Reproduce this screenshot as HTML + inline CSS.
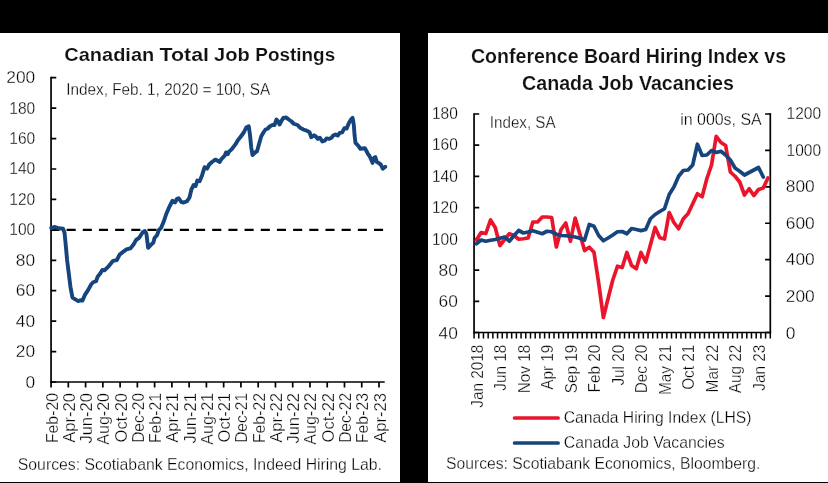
<!DOCTYPE html>
<html lang="en">
<head>
<meta charset="utf-8">
<title>Canadian Job Postings and Hiring Index Charts</title>
<style>
html,body{margin:0;padding:0;background:#000;}
body{width:828px;height:483px;overflow:hidden;}
#stage{width:828px;height:483px;will-change:transform;}
svg{display:block;font-family:"Liberation Sans", sans-serif;}
</style>
</head>
<body>
<div id="stage">
<svg width="828" height="483" viewBox="0 0 828 483">
<rect x="0" y="0" width="828" height="483" fill="#000"/>
<rect x="0" y="33" width="400" height="449" fill="#fff"/>
<rect x="428" y="33" width="400" height="449" fill="#fff"/>
<text y="61.45" font-size="19.1" font-weight="bold" fill="#111" stroke="#fff" stroke-width="0.15" paint-order="fill stroke"><tspan x="64.28" textLength="89.96" lengthAdjust="spacingAndGlyphs">Canadian</tspan> <tspan x="159.57" textLength="49.50" lengthAdjust="spacingAndGlyphs">Total</tspan> <tspan x="214.10" textLength="35.73" lengthAdjust="spacingAndGlyphs">Job</tspan> <tspan x="255.34" textLength="79.84" lengthAdjust="spacingAndGlyphs">Postings</tspan></text>
<text x="66.2" y="94.6" font-size="16" text-anchor="start" fill="#000" stroke="#fff" stroke-width="0.3" paint-order="fill stroke" textLength="204" lengthAdjust="spacingAndGlyphs" >Index, Feb. 1, 2020 = 100, SA</text>
<text x="35.2" y="387.5" font-size="16" text-anchor="end" fill="#000" stroke="#fff" stroke-width="0.3" paint-order="fill stroke" textLength="9.65" lengthAdjust="spacingAndGlyphs" >0</text>
<text x="35.2" y="357.07" font-size="16" text-anchor="end" fill="#000" stroke="#fff" stroke-width="0.3" paint-order="fill stroke" textLength="19.31" lengthAdjust="spacingAndGlyphs" >20</text>
<text x="35.2" y="326.64" font-size="16" text-anchor="end" fill="#000" stroke="#fff" stroke-width="0.3" paint-order="fill stroke" textLength="19.31" lengthAdjust="spacingAndGlyphs" >40</text>
<text x="35.2" y="296.21" font-size="16" text-anchor="end" fill="#000" stroke="#fff" stroke-width="0.3" paint-order="fill stroke" textLength="19.31" lengthAdjust="spacingAndGlyphs" >60</text>
<text x="35.2" y="265.78" font-size="16" text-anchor="end" fill="#000" stroke="#fff" stroke-width="0.3" paint-order="fill stroke" textLength="19.31" lengthAdjust="spacingAndGlyphs" >80</text>
<text x="35.2" y="235.35" font-size="16" text-anchor="end" fill="#000" stroke="#fff" stroke-width="0.3" paint-order="fill stroke" textLength="25.89" lengthAdjust="spacingAndGlyphs" >100</text>
<text x="35.2" y="204.92" font-size="16" text-anchor="end" fill="#000" stroke="#fff" stroke-width="0.3" paint-order="fill stroke" textLength="25.89" lengthAdjust="spacingAndGlyphs" >120</text>
<text x="35.2" y="174.48999999999998" font-size="16" text-anchor="end" fill="#000" stroke="#fff" stroke-width="0.3" paint-order="fill stroke" textLength="25.89" lengthAdjust="spacingAndGlyphs" >140</text>
<text x="35.2" y="144.06" font-size="16" text-anchor="end" fill="#000" stroke="#fff" stroke-width="0.3" paint-order="fill stroke" textLength="25.89" lengthAdjust="spacingAndGlyphs" >160</text>
<text x="35.2" y="113.63" font-size="16" text-anchor="end" fill="#000" stroke="#fff" stroke-width="0.3" paint-order="fill stroke" textLength="25.89" lengthAdjust="spacingAndGlyphs" >180</text>
<text x="35.2" y="83.19999999999999" font-size="16" text-anchor="end" fill="#000" stroke="#fff" stroke-width="0.3" paint-order="fill stroke" textLength="28.96" lengthAdjust="spacingAndGlyphs" >200</text>
<g stroke="#000" stroke-width="1.7" fill="none" stroke-linecap="butt">
<path d="M51.06 76.85000000000001 V382.85"/>
<path d="M50.21 382.0 H384.7"/>
<path d="M51.06 382.00 h5.2 M51.06 351.57 h5.2 M51.06 321.14 h5.2 M51.06 290.71 h5.2 M51.06 260.28 h5.2 M51.06 229.85 h5.2 M51.06 199.42 h5.2 M51.06 168.99 h5.2 M51.06 138.56 h5.2 M51.06 108.13 h5.2 M51.06 77.70 h5.2 "/>
<path d="M51.06 382.0 v5.4 M68.32 382.0 v5.4 M85.58 382.0 v5.4 M102.84 382.0 v5.4 M120.10 382.0 v5.4 M137.36 382.0 v5.4 M154.62 382.0 v5.4 M171.88 382.0 v5.4 M189.14 382.0 v5.4 M206.40 382.0 v5.4 M223.66 382.0 v5.4 M240.92 382.0 v5.4 M258.18 382.0 v5.4 M275.44 382.0 v5.4 M292.70 382.0 v5.4 M309.96 382.0 v5.4 M327.22 382.0 v5.4 M344.48 382.0 v5.4 M361.74 382.0 v5.4 M379.00 382.0 v5.4 "/>
</g>
<path d="M50.4 229.85 H384.7" stroke="#000" stroke-width="2.2" stroke-dasharray="9.1 7.08" fill="none"/>
<text x="57.56" y="393.0" font-size="16" text-anchor="end" fill="#000" stroke="#fff" stroke-width="0.3" paint-order="fill stroke" textLength="50.1" lengthAdjust="spacingAndGlyphs" transform="rotate(-90 57.56 393.0)" >Feb-20</text>
<text x="74.82" y="393.0" font-size="16" text-anchor="end" fill="#000" stroke="#fff" stroke-width="0.3" paint-order="fill stroke" textLength="49.8" lengthAdjust="spacingAndGlyphs" transform="rotate(-90 74.82 393.0)" >Apr-20</text>
<text x="92.08" y="393.0" font-size="16" text-anchor="end" fill="#000" stroke="#fff" stroke-width="0.3" paint-order="fill stroke" textLength="50.6" lengthAdjust="spacingAndGlyphs" transform="rotate(-90 92.08 393.0)" >Jun-20</text>
<text x="109.34" y="393.0" font-size="16" text-anchor="end" fill="#000" stroke="#fff" stroke-width="0.3" paint-order="fill stroke" textLength="51.7" lengthAdjust="spacingAndGlyphs" transform="rotate(-90 109.34 393.0)" >Aug-20</text>
<text x="126.6" y="393.0" font-size="16" text-anchor="end" fill="#000" stroke="#fff" stroke-width="0.3" paint-order="fill stroke" textLength="49.4" lengthAdjust="spacingAndGlyphs" transform="rotate(-90 126.6 393.0)" >Oct-20</text>
<text x="143.86" y="393.0" font-size="16" text-anchor="end" fill="#000" stroke="#fff" stroke-width="0.3" paint-order="fill stroke" textLength="49.8" lengthAdjust="spacingAndGlyphs" transform="rotate(-90 143.86 393.0)" >Dec-20</text>
<text x="161.12" y="393.0" font-size="16" text-anchor="end" fill="#000" stroke="#fff" stroke-width="0.3" paint-order="fill stroke" textLength="50.1" lengthAdjust="spacingAndGlyphs" transform="rotate(-90 161.12 393.0)" >Feb-21</text>
<text x="178.38" y="393.0" font-size="16" text-anchor="end" fill="#000" stroke="#fff" stroke-width="0.3" paint-order="fill stroke" textLength="49.8" lengthAdjust="spacingAndGlyphs" transform="rotate(-90 178.38 393.0)" >Apr-21</text>
<text x="195.64" y="393.0" font-size="16" text-anchor="end" fill="#000" stroke="#fff" stroke-width="0.3" paint-order="fill stroke" textLength="50.6" lengthAdjust="spacingAndGlyphs" transform="rotate(-90 195.64 393.0)" >Jun-21</text>
<text x="212.9" y="393.0" font-size="16" text-anchor="end" fill="#000" stroke="#fff" stroke-width="0.3" paint-order="fill stroke" textLength="51.7" lengthAdjust="spacingAndGlyphs" transform="rotate(-90 212.9 393.0)" >Aug-21</text>
<text x="230.16" y="393.0" font-size="16" text-anchor="end" fill="#000" stroke="#fff" stroke-width="0.3" paint-order="fill stroke" textLength="49.4" lengthAdjust="spacingAndGlyphs" transform="rotate(-90 230.16 393.0)" >Oct-21</text>
<text x="247.42" y="393.0" font-size="16" text-anchor="end" fill="#000" stroke="#fff" stroke-width="0.3" paint-order="fill stroke" textLength="49.8" lengthAdjust="spacingAndGlyphs" transform="rotate(-90 247.42 393.0)" >Dec-21</text>
<text x="264.68" y="393.0" font-size="16" text-anchor="end" fill="#000" stroke="#fff" stroke-width="0.3" paint-order="fill stroke" textLength="50.1" lengthAdjust="spacingAndGlyphs" transform="rotate(-90 264.68 393.0)" >Feb-22</text>
<text x="281.94" y="393.0" font-size="16" text-anchor="end" fill="#000" stroke="#fff" stroke-width="0.3" paint-order="fill stroke" textLength="49.8" lengthAdjust="spacingAndGlyphs" transform="rotate(-90 281.94 393.0)" >Apr-22</text>
<text x="299.2" y="393.0" font-size="16" text-anchor="end" fill="#000" stroke="#fff" stroke-width="0.3" paint-order="fill stroke" textLength="50.6" lengthAdjust="spacingAndGlyphs" transform="rotate(-90 299.2 393.0)" >Jun-22</text>
<text x="316.46" y="393.0" font-size="16" text-anchor="end" fill="#000" stroke="#fff" stroke-width="0.3" paint-order="fill stroke" textLength="51.7" lengthAdjust="spacingAndGlyphs" transform="rotate(-90 316.46 393.0)" >Aug-22</text>
<text x="333.72" y="393.0" font-size="16" text-anchor="end" fill="#000" stroke="#fff" stroke-width="0.3" paint-order="fill stroke" textLength="49.4" lengthAdjust="spacingAndGlyphs" transform="rotate(-90 333.72 393.0)" >Oct-22</text>
<text x="350.98" y="393.0" font-size="16" text-anchor="end" fill="#000" stroke="#fff" stroke-width="0.3" paint-order="fill stroke" textLength="49.8" lengthAdjust="spacingAndGlyphs" transform="rotate(-90 350.98 393.0)" >Dec-22</text>
<text x="368.24" y="393.0" font-size="16" text-anchor="end" fill="#000" stroke="#fff" stroke-width="0.3" paint-order="fill stroke" textLength="50.1" lengthAdjust="spacingAndGlyphs" transform="rotate(-90 368.24 393.0)" >Feb-23</text>
<text x="385.5" y="393.0" font-size="16" text-anchor="end" fill="#000" stroke="#fff" stroke-width="0.3" paint-order="fill stroke" textLength="49.8" lengthAdjust="spacingAndGlyphs" transform="rotate(-90 385.5 393.0)" >Apr-23</text>
<polyline points="51.25,228 55,227 58.75,228.25 63,228.75 64.5,232.5 65.5,242.5 67.1,260 68.6,272 70.4,286.6 72.4,297.3 75.3,299.4 78.2,301.1 80.3,300.2 82.5,300.5 84.9,294.9 88.2,289.9 91.1,284.5 93.1,282.3 96,281.2 97.7,276.6 100.4,273.2 102.3,269.9 104.5,270.4 108.8,266.1 113.1,260.8 116.8,260.2 119.5,254.8 123.8,251.3 126.5,249.4 130.3,248.4 133.5,244.6 136.2,239.8 139.4,237.6 142.7,232.2 144.8,231.1 146.4,233.8 148.1,247.8 150.7,245.1 153.4,242.5 154.5,238.1 157.2,234.9 158.8,230.1 161,227.9 163.75,221.5 166.25,214 169.5,206.5 172.5,200.75 175,202.5 177,198.75 178.75,198.25 181.25,202 183.75,202.5 187,201.25 189.5,197.5 191.4,189.5 193.7,185 195.6,186 197.3,180.6 199.6,181.2 202.1,175.2 204.6,167.2 207.1,168.6 209.2,164.5 212,162 215.3,159.6 217.5,160.6 219.7,162 221.6,158.8 224.7,155.7 226,152.4 227.8,154.1 228.8,151.9 231.6,149.4 235.4,144.4 238,140 240.5,137 243.75,132.5 246.25,127.5 248.75,126.25 250,135 251.25,147.5 252.5,155 255,152.5 257,151.25 258.75,145 261.25,136.25 263.75,132 265.5,129.5 267.5,128.75 270,126.25 272.5,125 274.5,125 276.5,119.5 278,121.25 279.5,124.5 281.25,121.25 283.25,118 286.25,117.5 288.75,119.5 291.25,121.25 293.75,123.75 297.5,125 300,127.6 303.3,129.5 306.6,130.6 309.6,132.3 311.3,137.25 314.1,135.3 315.7,136.4 317.9,138.9 319.9,137.75 322.35,141.4 324.8,140.6 326.5,138.4 329,138.9 331.5,137.75 333.1,135.6 335.6,134.4 337.75,135.6 339.7,132.8 342.2,132.3 344.4,128.1 346.7,128.5 348.8,123.2 351,119.5 352.6,117.9 353.8,124.8 354.6,135.6 355.5,143 357.1,144.4 358.8,146.4 360.4,148.8 362.9,148.5 364.9,148.3 366.2,150.5 367.9,153.8 369.5,156 371.2,159.6 372.5,162.9 374,157.9 375.3,157.1 377,162.1 378.6,162.9 380.8,164.6 382.8,168.7 385.3,166.7" fill="none" stroke="#16457d" stroke-width="3.9" stroke-linejoin="round" stroke-linecap="round"/>
<text x="17.8" y="469.8" font-size="16" text-anchor="start" fill="#000" stroke="#fff" stroke-width="0.3" paint-order="fill stroke" textLength="364.2" lengthAdjust="spacingAndGlyphs" >Sources: Scotiabank Economics, Indeed Hiring Lab.</text>
<text x="628.5" y="62.65" font-size="20.4" text-anchor="middle" fill="#111" font-weight="bold" stroke="#fff" stroke-width="0.15" paint-order="fill stroke" textLength="315" lengthAdjust="spacingAndGlyphs" >Conference Board Hiring Index vs</text>
<text x="628" y="89.55" font-size="20.4" text-anchor="middle" fill="#111" font-weight="bold" stroke="#fff" stroke-width="0.15" paint-order="fill stroke" textLength="212" lengthAdjust="spacingAndGlyphs" >Canada Job Vacancies</text>
<text x="489.8" y="127.8" font-size="16" text-anchor="start" fill="#000" stroke="#fff" stroke-width="0.3" paint-order="fill stroke" textLength="65.8" lengthAdjust="spacingAndGlyphs" >Index, SA</text>
<text x="761.7" y="125.4" font-size="16" text-anchor="end" fill="#000" stroke="#fff" stroke-width="0.3" paint-order="fill stroke" textLength="81.5" lengthAdjust="spacingAndGlyphs" >in 000s, SA</text>
<text x="457.8" y="338.85" font-size="16" text-anchor="end" fill="#000" stroke="#fff" stroke-width="0.3" paint-order="fill stroke" textLength="19.31" lengthAdjust="spacingAndGlyphs" >40</text>
<text x="457.8" y="307.44" font-size="16" text-anchor="end" fill="#000" stroke="#fff" stroke-width="0.3" paint-order="fill stroke" textLength="19.31" lengthAdjust="spacingAndGlyphs" >60</text>
<text x="457.8" y="276.02" font-size="16" text-anchor="end" fill="#000" stroke="#fff" stroke-width="0.3" paint-order="fill stroke" textLength="19.31" lengthAdjust="spacingAndGlyphs" >80</text>
<text x="457.8" y="244.61" font-size="16" text-anchor="end" fill="#000" stroke="#fff" stroke-width="0.3" paint-order="fill stroke" textLength="25.89" lengthAdjust="spacingAndGlyphs" >100</text>
<text x="457.8" y="213.19" font-size="16" text-anchor="end" fill="#000" stroke="#fff" stroke-width="0.3" paint-order="fill stroke" textLength="25.89" lengthAdjust="spacingAndGlyphs" >120</text>
<text x="457.8" y="181.78" font-size="16" text-anchor="end" fill="#000" stroke="#fff" stroke-width="0.3" paint-order="fill stroke" textLength="25.89" lengthAdjust="spacingAndGlyphs" >140</text>
<text x="457.8" y="150.36" font-size="16" text-anchor="end" fill="#000" stroke="#fff" stroke-width="0.3" paint-order="fill stroke" textLength="25.89" lengthAdjust="spacingAndGlyphs" >160</text>
<text x="457.8" y="118.95" font-size="16" text-anchor="end" fill="#000" stroke="#fff" stroke-width="0.3" paint-order="fill stroke" textLength="25.89" lengthAdjust="spacingAndGlyphs" >180</text>
<text x="785.8" y="338.7" font-size="16" text-anchor="start" fill="#000" stroke="#fff" stroke-width="0.3" paint-order="fill stroke" textLength="9.65" lengthAdjust="spacingAndGlyphs" >0</text>
<text x="785.8" y="302.07" font-size="16" text-anchor="start" fill="#000" stroke="#fff" stroke-width="0.3" paint-order="fill stroke" textLength="28.96" lengthAdjust="spacingAndGlyphs" >200</text>
<text x="785.8" y="265.43" font-size="16" text-anchor="start" fill="#000" stroke="#fff" stroke-width="0.3" paint-order="fill stroke" textLength="28.96" lengthAdjust="spacingAndGlyphs" >400</text>
<text x="785.8" y="228.8" font-size="16" text-anchor="start" fill="#000" stroke="#fff" stroke-width="0.3" paint-order="fill stroke" textLength="28.96" lengthAdjust="spacingAndGlyphs" >600</text>
<text x="785.8" y="192.17" font-size="16" text-anchor="start" fill="#000" stroke="#fff" stroke-width="0.3" paint-order="fill stroke" textLength="28.96" lengthAdjust="spacingAndGlyphs" >800</text>
<text x="786.6" y="155.53" font-size="16" text-anchor="start" fill="#000" stroke="#fff" stroke-width="0.3" paint-order="fill stroke" textLength="34.52" lengthAdjust="spacingAndGlyphs" >1000</text>
<text x="786.6" y="118.9" font-size="16" text-anchor="start" fill="#000" stroke="#fff" stroke-width="0.3" paint-order="fill stroke" textLength="34.52" lengthAdjust="spacingAndGlyphs" >1200</text>
<g stroke="#000" stroke-width="1.7" fill="none">
<path d="M474.06 113.15 V333.35"/>
<path d="M770.3 113.15 V333.35"/>
<path d="M473.21 332.5 H771.15"/>
<path d="M474.06 332.50 h5.2 M474.06 301.29 h5.2 M474.06 270.07 h5.2 M474.06 238.86 h5.2 M474.06 207.64 h5.2 M474.06 176.43 h5.2 M474.06 145.21 h5.2 M474.06 114.00 h5.2 M770.3 332.50 h-5.2 M770.3 296.08 h-5.2 M770.3 259.67 h-5.2 M770.3 223.25 h-5.2 M770.3 186.83 h-5.2 M770.3 150.42 h-5.2 M770.3 114.00 h-5.2 "/>
</g>
<path d="M474.06 332.5 v6.0 M478.76 332.5 v6.0 M483.46 332.5 v6.0 M488.17 332.5 v6.0 M492.87 332.5 v6.0 M497.57 332.5 v6.0 M502.27 332.5 v6.0 M506.98 332.5 v6.0 M511.68 332.5 v6.0 M516.38 332.5 v6.0 M521.08 332.5 v6.0 M525.78 332.5 v6.0 M530.49 332.5 v6.0 M535.19 332.5 v6.0 M539.89 332.5 v6.0 M544.59 332.5 v6.0 M549.30 332.5 v6.0 M554.00 332.5 v6.0 M558.70 332.5 v6.0 M563.40 332.5 v6.0 M568.10 332.5 v6.0 M572.81 332.5 v6.0 M577.51 332.5 v6.0 M582.21 332.5 v6.0 M586.91 332.5 v6.0 M591.62 332.5 v6.0 M596.32 332.5 v6.0 M601.02 332.5 v6.0 M605.72 332.5 v6.0 M610.42 332.5 v6.0 M615.13 332.5 v6.0 M619.83 332.5 v6.0 M624.53 332.5 v6.0 M629.23 332.5 v6.0 M633.94 332.5 v6.0 M638.64 332.5 v6.0 M643.34 332.5 v6.0 M648.04 332.5 v6.0 M652.74 332.5 v6.0 M657.45 332.5 v6.0 M662.15 332.5 v6.0 M666.85 332.5 v6.0 M671.55 332.5 v6.0 M676.26 332.5 v6.0 M680.96 332.5 v6.0 M685.66 332.5 v6.0 M690.36 332.5 v6.0 M695.06 332.5 v6.0 M699.77 332.5 v6.0 M704.47 332.5 v6.0 M709.17 332.5 v6.0 M713.87 332.5 v6.0 M718.58 332.5 v6.0 M723.28 332.5 v6.0 M727.98 332.5 v6.0 M732.68 332.5 v6.0 M737.38 332.5 v6.0 M742.09 332.5 v6.0 M746.79 332.5 v6.0 M751.49 332.5 v6.0 M756.19 332.5 v6.0 M760.90 332.5 v6.0 M765.60 332.5 v6.0 M770.30 332.5 v6.0 " stroke="#000" stroke-width="1.5" fill="none"/>
<text x="482.81" y="344.6" font-size="16" text-anchor="end" fill="#000" stroke="#fff" stroke-width="0.3" paint-order="fill stroke" textLength="63.2" lengthAdjust="spacingAndGlyphs" transform="rotate(-90 482.81 344.6)" >Jan 2018</text>
<text x="506.32" y="344.6" font-size="16" text-anchor="end" fill="#000" stroke="#fff" stroke-width="0.3" paint-order="fill stroke" textLength="46.12" lengthAdjust="spacingAndGlyphs" transform="rotate(-90 506.32 344.6)" >Jun 18</text>
<text x="529.83" y="344.6" font-size="16" text-anchor="end" fill="#000" stroke="#fff" stroke-width="0.3" paint-order="fill stroke" textLength="48.67" lengthAdjust="spacingAndGlyphs" transform="rotate(-90 529.83 344.6)" >Nov 18</text>
<text x="553.34" y="344.6" font-size="16" text-anchor="end" fill="#000" stroke="#fff" stroke-width="0.3" paint-order="fill stroke" textLength="45.25" lengthAdjust="spacingAndGlyphs" transform="rotate(-90 553.34 344.6)" >Apr 19</text>
<text x="576.86" y="344.6" font-size="16" text-anchor="end" fill="#000" stroke="#fff" stroke-width="0.3" paint-order="fill stroke" textLength="48.68" lengthAdjust="spacingAndGlyphs" transform="rotate(-90 576.86 344.6)" >Sep 19</text>
<text x="600.37" y="344.6" font-size="16" text-anchor="end" fill="#000" stroke="#fff" stroke-width="0.3" paint-order="fill stroke" textLength="47.82" lengthAdjust="spacingAndGlyphs" transform="rotate(-90 600.37 344.6)" >Feb 20</text>
<text x="623.88" y="344.6" font-size="16" text-anchor="end" fill="#000" stroke="#fff" stroke-width="0.3" paint-order="fill stroke" textLength="40.99" lengthAdjust="spacingAndGlyphs" transform="rotate(-90 623.88 344.6)" >Jul 20</text>
<text x="647.39" y="344.6" font-size="16" text-anchor="end" fill="#000" stroke="#fff" stroke-width="0.3" paint-order="fill stroke" textLength="48.67" lengthAdjust="spacingAndGlyphs" transform="rotate(-90 647.39 344.6)" >Dec 20</text>
<text x="670.9" y="344.6" font-size="16" text-anchor="end" fill="#000" stroke="#fff" stroke-width="0.3" paint-order="fill stroke" textLength="50.37" lengthAdjust="spacingAndGlyphs" transform="rotate(-90 670.9 344.6)" >May 21</text>
<text x="694.41" y="344.6" font-size="16" text-anchor="end" fill="#000" stroke="#fff" stroke-width="0.3" paint-order="fill stroke" textLength="45.25" lengthAdjust="spacingAndGlyphs" transform="rotate(-90 694.41 344.6)" >Oct 21</text>
<text x="717.92" y="344.6" font-size="16" text-anchor="end" fill="#000" stroke="#fff" stroke-width="0.3" paint-order="fill stroke" textLength="47.8" lengthAdjust="spacingAndGlyphs" transform="rotate(-90 717.92 344.6)" >Mar 22</text>
<text x="741.43" y="344.6" font-size="16" text-anchor="end" fill="#000" stroke="#fff" stroke-width="0.3" paint-order="fill stroke" textLength="48.68" lengthAdjust="spacingAndGlyphs" transform="rotate(-90 741.43 344.6)" >Aug 22</text>
<text x="764.94" y="344.6" font-size="16" text-anchor="end" fill="#000" stroke="#fff" stroke-width="0.3" paint-order="fill stroke" textLength="46.12" lengthAdjust="spacingAndGlyphs" transform="rotate(-90 764.94 344.6)" >Jan 23</text>
<polyline points="476.41,240 481.11,232.5 485.82,233.5 490.52,220 495.22,227.5 499.92,245.5 504.62,239.5 509.33,233.75 514.03,235.5 518.73,239.25 523.43,238.75 528.14,238 532.84,222 537.54,222 542.24,217 546.94,217 551.65,217.5 556.35,247 561.05,229.5 565.75,223 570.46,241.25 575.16,218 579.86,234 584.56,250.6 589.26,247.2 593.97,252.2 598.67,283 603.37,317.5 608.07,298.5 612.78,280 617.48,266.25 622.18,267.5 626.88,252.5 631.58,265.5 636.29,268.75 640.99,252.5 645.69,262 650.39,245 655.10,227.5 659.80,237.75 664.50,239 669.20,212.5 673.90,222.5 678.61,228.75 683.31,218.75 688.01,213.75 692.71,203.75 697.42,193.75 702.12,196.75 706.82,178.75 711.52,165 716.22,136.25 720.93,142.5 725.63,145.5 730.33,172 735.03,176.25 739.74,182 744.44,195 749.14,188.75 753.84,195.5 758.54,189.5 763.25,188 767.95,178" fill="none" stroke="#ea152c" stroke-width="3.7" stroke-linejoin="round" stroke-linecap="round"/>
<polyline points="476.41,243.75 481.11,240 485.82,241.25 490.52,240.25 495.22,239.5 499.92,238.25 504.62,237 509.33,241.25 514.03,235.5 518.73,230.5 523.43,233 528.14,232 532.84,230.75 537.54,232.25 542.24,233.75 546.94,231.25 551.65,231.75 556.35,234.25 561.05,235.5 565.75,235.75 570.46,236.25 575.16,237 579.86,238.25 584.56,240 589.26,224.5 593.97,226.25 598.67,235.5 603.37,240.75 608.07,238 612.78,235 617.48,231.75 622.18,231.5 626.88,233.75 631.58,228.5 636.29,229.5 640.99,230.6 645.69,229.5 650.39,218.75 655.10,214.5 659.80,211.5 664.50,208.75 669.20,194.5 673.90,187 678.61,176.25 683.31,170.5 688.01,170 692.71,165 697.42,144.25 702.12,155.5 706.82,155 711.52,150.5 716.22,152.5 720.93,151.25 725.63,155 730.33,160 735.03,168 739.74,171.25 744.44,175 749.14,172.5 753.84,170 758.54,167.5 763.25,177" fill="none" stroke="#16457d" stroke-width="3.7" stroke-linejoin="round" stroke-linecap="round"/>
<path d="M514.6 418.0 H558.1" stroke="#ea152c" stroke-width="3.7" stroke-linecap="round"/>
<path d="M514.6 443 H558.1" stroke="#16457d" stroke-width="3.7" stroke-linecap="round"/>
<text x="563.75" y="423.0" font-size="16" text-anchor="start" fill="#000" stroke="#fff" stroke-width="0.3" paint-order="fill stroke" textLength="187.7" lengthAdjust="spacingAndGlyphs" >Canada Hiring Index (LHS)</text>
<text x="563.75" y="448.2" font-size="16" text-anchor="start" fill="#000" stroke="#fff" stroke-width="0.3" paint-order="fill stroke" textLength="161" lengthAdjust="spacingAndGlyphs" >Canada Job Vacancies</text>
<text x="446" y="468.5" font-size="16" text-anchor="start" fill="#000" stroke="#fff" stroke-width="0.3" paint-order="fill stroke" textLength="314.3" lengthAdjust="spacingAndGlyphs" >Sources: Scotiabank Economics, Bloomberg.</text>
</svg>
</div>
</body>
</html>
